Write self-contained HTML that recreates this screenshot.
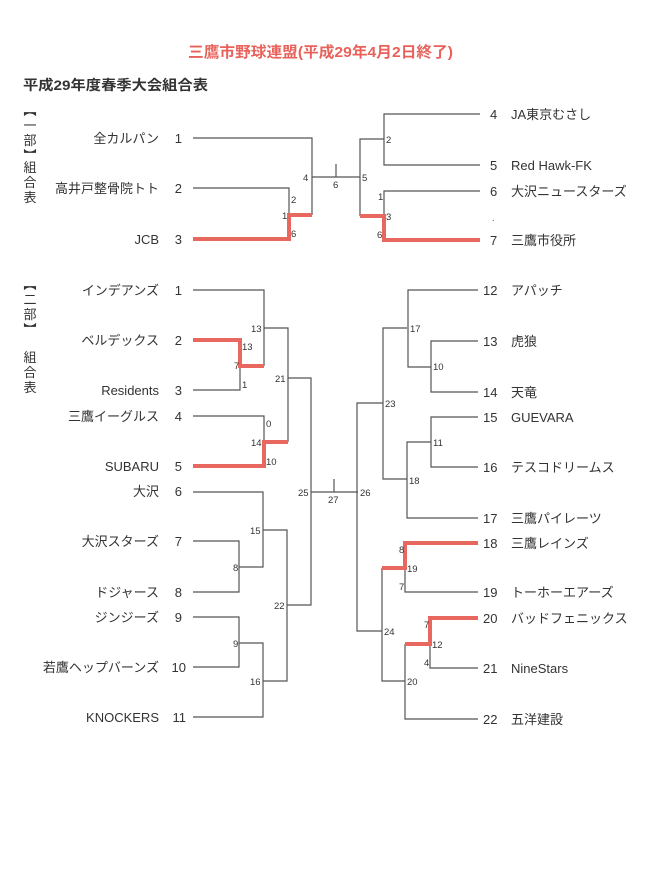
<!DOCTYPE html>
<html><head><meta charset="utf-8"><style>
html,body{margin:0;padding:0;background:#fff;}
svg{display:block;}
text{font-family:"Liberation Sans","Noto Sans CJK JP",sans-serif;fill:#333;}
.n{font-size:13px;}
.s{font-size:9.5px;fill:#444;}
.v{font-size:13px;}
</style></head><body>
<svg width="670" height="878" viewBox="0 0 670 878" xmlns="http://www.w3.org/2000/svg">
<rect width="670" height="878" fill="#fff"/>
<text x="188" y="57" font-size="15" font-weight="bold" style="fill:#e8615a" textLength="265" lengthAdjust="spacingAndGlyphs">三鷹市野球連盟(平成29年4月2日終了)</text>
<text x="23" y="90" font-size="14" font-weight="bold" style="fill:#333" textLength="185" lengthAdjust="spacingAndGlyphs">平成29年度春季大会組合表</text>

<!-- vertical side labels -->
<g class="v" text-anchor="middle">
<text x="30" y="115">︻</text><text x="30" y="130">一</text><text x="30" y="145">部</text><text x="30" y="160">︼</text>
<text x="30" y="172">組</text><text x="30" y="187">合</text><text x="30" y="202">表</text>
<text x="30" y="289">︻</text><text x="30" y="304">二</text><text x="30" y="319">部</text><text x="30" y="334">︼</text>
<text x="30" y="362">組</text><text x="30" y="377">合</text><text x="30" y="392">表</text>
</g>

<!-- left names -->
<g class="n" text-anchor="end">
<text x="159" y="143">全カルパン</text><text x="182" y="143">1</text>
<text x="159" y="193">高井戸整骨院トト</text><text x="182" y="193">2</text>
<text x="159" y="244">JCB</text><text x="182" y="244">3</text>
<text x="159" y="295">インデアンズ</text><text x="182" y="295">1</text>
<text x="159" y="345">ベルデックス</text><text x="182" y="345">2</text>
<text x="159" y="395">Residents</text><text x="182" y="395">3</text>
<text x="159" y="421">三鷹イーグルス</text><text x="182" y="421">4</text>
<text x="159" y="471">SUBARU</text><text x="182" y="471">5</text>
<text x="159" y="496">大沢</text><text x="182" y="496">6</text>
<text x="159" y="546">大沢スターズ</text><text x="182" y="546">7</text>
<text x="159" y="597">ドジャース</text><text x="182" y="597">8</text>
<text x="159" y="622">ジンジーズ</text><text x="182" y="622">9</text>
<text x="159" y="672">若鷹ヘップバーンズ</text><text x="186" y="672">10</text>
<text x="159" y="722">KNOCKERS</text><text x="186" y="722">11</text>
</g>
<!-- right names -->
<g class="n">
<text x="490" y="119">4</text><text x="511" y="119">JA東京むさし</text>
<text x="490" y="170">5</text><text x="511" y="170">Red  Hawk-FK</text>
<text x="490" y="196">6</text><text x="511" y="196">大沢ニュースターズ</text>
<text x="492" y="221" font-size="9">.</text>
<text x="490" y="245">7</text><text x="511" y="245">三鷹市役所</text>
<text x="483" y="295">12</text><text x="511" y="295">アパッチ</text>
<text x="483" y="346">13</text><text x="511" y="346">虎狼</text>
<text x="483" y="397">14</text><text x="511" y="397">天竜</text>
<text x="483" y="422">15</text><text x="511" y="422">GUEVARA</text>
<text x="483" y="472">16</text><text x="511" y="472">テスコドリームス</text>
<text x="483" y="523">17</text><text x="511" y="523">三鷹パイレーツ</text>
<text x="483" y="548">18</text><text x="511" y="548">三鷹レインズ</text>
<text x="483" y="597">19</text><text x="511" y="597">トーホーエアーズ</text>
<text x="483" y="623">20</text><text x="511" y="623">バッドフェニックス</text>
<text x="483" y="673">21</text><text x="511" y="673">NineStars</text>
<text x="483" y="724">22</text><text x="511" y="724">五洋建設</text>
</g>

<!-- thin lines -->
<g stroke="#555" stroke-width="1.2" fill="none">
<polyline points="193,138 312,138 312,215"/>
<polyline points="193,188 289,188 289,215"/>
<line x1="312" y1="177" x2="360" y2="177"/>
<line x1="336" y1="164" x2="336" y2="177"/>
<polyline points="360,216 360,139 384,139"/>
<polyline points="480,114 384,114 384,165 480,165"/>
<polyline points="480,191 384,191 384,216"/>
<polyline points="193,290 264,290 264,366"/>
<polyline points="193,390 240,390 240,366"/>
<polyline points="264,328 288,328 288,442"/>
<polyline points="193,416 264,416 264,442"/>
<polyline points="288,378 311,378 311,605 287,605"/>
<polyline points="193,492 263,492 263,567 239,567"/>
<polyline points="263,530 287,530 287,681 263,681"/>
<polyline points="193,541 239,541 239,592 193,592"/>
<polyline points="193,617 239,617 239,667 193,667"/>
<polyline points="239,643 263,643 263,717 193,717"/>
<line x1="311" y1="492" x2="358" y2="492"/>
<line x1="334" y1="479" x2="334" y2="492"/>
<polyline points="383,403 357,403 357,631 382,631"/>
<polyline points="407,328 383,328 383,479 407,479"/>
<polyline points="478,290 408,290 408,367 431,367"/>
<polyline points="478,341 431,341 431,392 478,392"/>
<polyline points="478,417 431,417 431,467 478,467"/>
<polyline points="431,442 407,442 407,518 478,518"/>
<polyline points="405,568 405,592 478,592"/>
<polyline points="382,568 382,681 405,681"/>
<polyline points="430,644 430,668 478,668"/>
<polyline points="405,644 405,719 478,719"/>
</g>

<!-- red lines -->
<g stroke="#e8675f" stroke-width="4" fill="none" stroke-linejoin="miter">
<polyline points="193,239 289,239 289,215 312,215"/>
<polyline points="360,216 384,216 384,240 480,240"/>
<polyline points="193,340 240,340 240,366 264,366"/>
<polyline points="193,466 264,466 264,442 288,442"/>
<polyline points="478,543 405,543 405,568 382,568"/>
<polyline points="478,618 430,618 430,644 405,644"/>
</g>

<!-- score labels -->
<g class="s">
<text x="303" y="181">4</text>
<text x="333" y="188">6</text>
<text x="291" y="203">2</text>
<text x="282" y="219">1</text>
<text x="291" y="237">6</text>
<text x="386" y="143">2</text>
<text x="362" y="181">5</text>
<text x="378" y="200">1</text>
<text x="386" y="220">3</text>
<text x="377" y="238">6</text>

<text x="251" y="332">13</text>
<text x="242" y="350">13</text>
<text x="234" y="369">7</text>
<text x="242" y="388">1</text>
<text x="275" y="382">21</text>
<text x="266" y="427">0</text>
<text x="251" y="446">14</text>
<text x="266" y="465">10</text>
<text x="250" y="534">15</text>
<text x="233" y="571">8</text>
<text x="274" y="609">22</text>
<text x="233" y="647">9</text>
<text x="250" y="685">16</text>
<text x="298" y="496">25</text>
<text x="328" y="503">27</text>
<text x="360" y="496">26</text>

<text x="410" y="332">17</text>
<text x="433" y="370">10</text>
<text x="385" y="407">23</text>
<text x="433" y="446">11</text>
<text x="409" y="484">18</text>
<text x="399" y="553">8</text>
<text x="407" y="572">19</text>
<text x="399" y="590">7</text>
<text x="384" y="635">24</text>
<text x="424" y="628">7</text>
<text x="432" y="648">12</text>
<text x="424" y="666">4</text>
<text x="407" y="685">20</text>
</g>
</svg>
</body></html>
